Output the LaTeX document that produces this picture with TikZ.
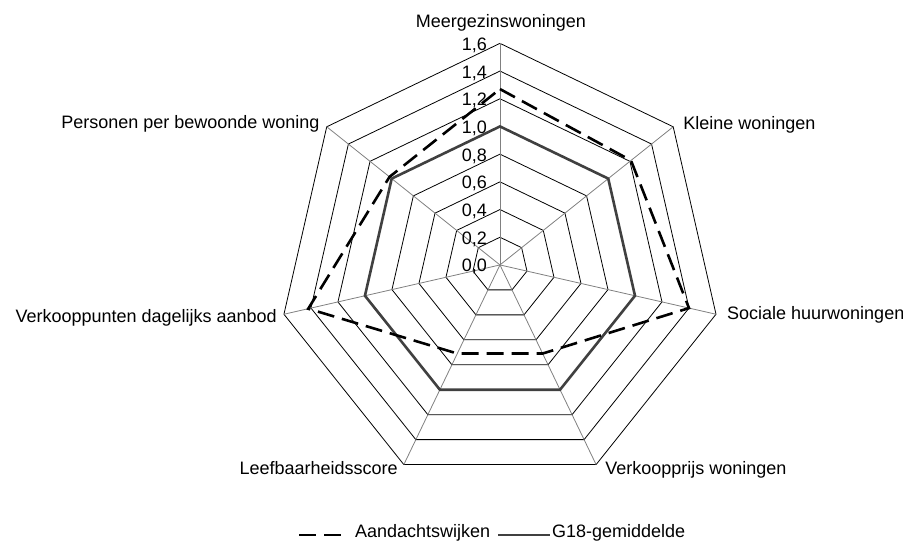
\documentclass[tikz,border=0pt]{standalone}
\usepackage{fontspec}
\setmainfont{Liberation Sans}
\begin{document}
\begin{tikzpicture}[x=138.5pt, y=138.5pt,
    lbl/.style={font=\fontsize{18}{21}\selectfont, inner sep=0pt},
    ring/.style={line width=0.8pt},
    spoke/.style={line width=0.8pt, black!50},
    wijk/.style={line width=2.6pt, dash pattern=on 17pt off 8pt},
    gem/.style={line width=2.6pt, black!75}]
    \useasboundingbox (-3.610,-2.014) rectangle (2.910,1.913);

    % Raster: zeven assen, ringen van 0,2 tot 1,6
    \foreach \i in {1,...,8}
        \draw[ring] (90:{\i*0.2}) \foreach \k in {1,...,6} { -- ({90-\k*360/7}:{\i*0.2}) } -- cycle;
    \foreach \k in {0,...,6} {
        \draw[spoke] (0,0) -- ({90-\k*360/7}:1.6);
        \coordinate (o\k) at ({90-\k*360/7}:1.6);
    }

    % Schaalwaarden
    \foreach \i/\t in {0/{0,0},1/{0,2},2/{0,4},3/{0,6},4/{0,8},5/{1,0},6/{1,2},7/{1,4},8/{1,6}}
        \node[lbl, anchor=base east] (tick\i) at ([yshift=-7pt]-13pt,{\i*0.2}) {\t};

    % G18-gemiddelde
    \draw[gem] plot coordinates {
            (90:1)
            (38.571:1)
            (-12.857:1)
            (-64.286:1)
            (-115.714:1)
            (-167.143:1)
            (141.429:1)
    } -- cycle;

    % Aandachtswijken
    \draw[wijk] plot coordinates {
            (90:1.27)
            (38.571:1.21)
            (-12.857:1.40)
            (-64.286:0.71)
            (-115.714:0.71)
            (-167.143:1.42)
            (141.429:1.02)
    } -- cycle;

    % Aslabels
    \node[lbl, anchor=base] (meer) at ([shift={(1pt,16pt)}]o0) {Meergezinswoningen};
    \node[lbl, anchor=base west] (klein) at ([shift={(10pt,-3pt)}]o1) {Kleine woningen};
    \node[lbl, anchor=base west] (sociaal) at ([shift={(11pt,-5pt)}]o2) {Sociale huurwoningen};
    \node[lbl, anchor=base west] (prijs) at ([shift={(9pt,-10pt)}]o3) {Verkoopprijs woningen};
    \node[lbl, anchor=base east] (leef) at ([shift={(-6pt,-10pt)}]o4) {Leefbaarheidsscore};
    \node[lbl, anchor=base east] (winkel) at ([shift={(-7pt,-8pt)}]o5) {Verkooppunten dagelijks aanbod};
    \node[lbl, anchor=base east] (personen) at ([shift={(-7pt,-2pt)}]o6) {Personen per bewoonde woning};

    % Legenda
    \coordinate (lega) at (-1.451,-1.949);
    \coordinate (legb) at (-1.148,-1.949);
    \draw[wijk] (lega) -- (legb);
    \node[lbl, anchor=base west] (aand) at ([shift={(14pt,-3pt)}]legb) {Aandachtswijken};
    \coordinate (legc) at (-0.014,-1.949);
    \coordinate (legd) at (0.361,-1.949);
    \draw[gem, line width=2pt] (legc) -- (legd);
    \node[lbl, anchor=base west] (g18) at ([shift={(2pt,-3pt)}]legd) {G18-gemiddelde};
\end{tikzpicture}
\end{document}
